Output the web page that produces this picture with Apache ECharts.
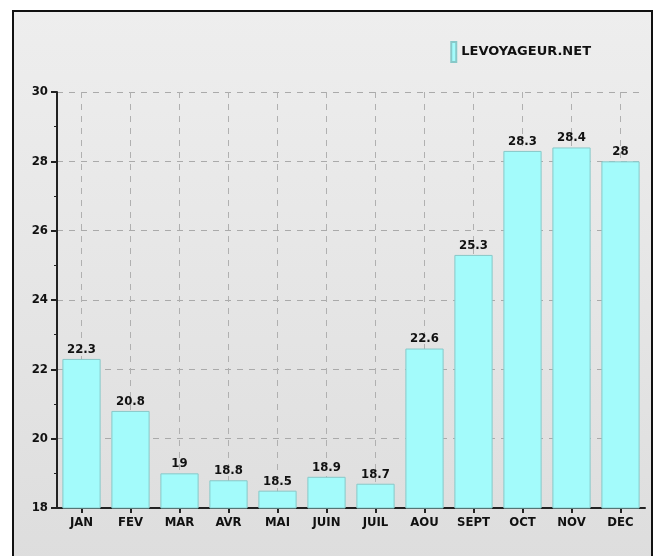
<!DOCTYPE html>
<html><head><meta charset="utf-8">
<script src="https://cdn.jsdelivr.net/npm/echarts@6/dist/echarts.min.js"></script>
<style>html,body{margin:0;padding:0;background:#fff}#c{width:656px;height:556px}</style>
</head><body><div id="c"></div>
<script>
const months = ['JAN','FEV','MAR','AVR','MAI','JUIN','JUIL','AOU','SEPT','OCT','NOV','DEC'];
const temps = [22.3, 20.8, 19, 18.8, 18.5, 18.9, 18.7, 22.6, 25.3, 28.3, 28.4, 28];
const seriesName = 'LEVOYAGEUR.NET';
const yMin = 18, yMax = 30, yStep = 2;

const font = 'DejaVu Sans Condensed';
const chart = echarts.init(document.getElementById('c'), null, {renderer:'canvas'});
chart.setOption({
  animation:false,
  backgroundColor:'#ffffff',
  graphic:[{
    type:'rect', z:-10, silent:true,
    shape:{x:13, y:11, width:639, height:560},
    style:{
      fill:new echarts.graphic.LinearGradient(0,0,0,1,[{offset:0,color:'#eeeeee'},{offset:1,color:'#dddddd'}]),
      stroke:'#111', lineWidth:2
    }
  }],
  legend:{
    right:60, top:36, itemWidth:5, itemHeight:20, icon:'rect', itemGap:8,
    textStyle:{fontFamily:'DejaVu Sans', fontWeight:'bold', fontSize:13, color:'#111'},
    data:[seriesName]
  },
  grid:{left:57, right:11, top:92, bottom:48, containLabel:false},
  xAxis:{
    type:'category', data:months,
    axisLine:{lineStyle:{color:'#222', width:2}},
    axisTick:{show:true, alignWithLabel:true, length:5, lineStyle:{color:'#222', width:2}},
    axisLabel:{fontFamily:font, fontWeight:'bold', fontSize:13, color:'#111', margin:8, interval:0},
    splitLine:{show:true, alignWithLabel:true, lineStyle:{color:'#b0b0b0', type:[6,6], width:1}}
  },
  yAxis:{
    type:'value', min:yMin, max:yMax, interval:yStep,
    axisLine:{show:true, lineStyle:{color:'#222', width:2}},
    axisTick:{show:true, length:6, lineStyle:{color:'#222', width:2}},
    minorTick:{show:true, splitNumber:2, length:3, lineStyle:{color:'#222', width:1}},
    axisLabel:{fontFamily:font, fontWeight:'bold', fontSize:13, color:'#111', margin:9},
    splitLine:{show:true, lineStyle:{color:'#aaaaaa', type:[6,6], width:1}}
  },
  series:[{
    name:seriesName, type:'bar', data:temps, barCategoryGap:'22%',
    itemStyle:{color:'#a3fbfb', borderColor:'#88c8c8', borderWidth:1},
    label:{show:true, position:'top', distance:3, fontFamily:font, fontWeight:'bold', fontSize:13, color:'#111'}
  }]
});
</script></body></html>
